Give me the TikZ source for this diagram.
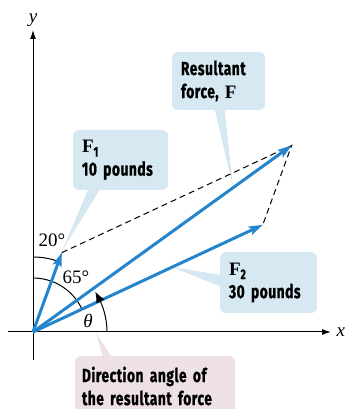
\documentclass[tikz,border=0pt]{standalone}
\usepackage{fontspec}
\setmainfont{Liberation Serif}
\newfontfamily\callfont[FakeStretch=0.72, LetterSpace=3, FakeBold=1]{Fira Sans}
\usetikzlibrary{arrows.meta,calc,bending}
\definecolor{forceblue}{RGB}{36,132,204}
\definecolor{tagblue}{RGB}{214,232,242}
\definecolor{tagpink}{RGB}{237,224,231}
\tikzset{
  every picture/.style={line width=1pt},
  axis/.style={-{Latex[length=9pt,width=6pt]}, line width=1pt},
  force/.style={-{Stealth[length=14pt,width=9pt,inset=3pt]}, line width=3pt, color=forceblue},
  guide/.style={dash pattern=on 6pt off 4pt, line width=1pt},
  angarc/.style={line width=1pt},
  tag/.style={rounded corners=6pt, inner sep=0pt, align=left,
    font=\callfont\bfseries\fontsize{19}{23}\selectfont},
  bluetag/.style={tag, fill=tagblue},
  pinktag/.style={tag, fill=tagpink},
  mlbl/.style={font=\fontsize{19}{19}\selectfont, inner sep=0pt},
}

\begin{document}
\begin{tikzpicture}[x=1pt, y=1pt]
  \clip (-33,-77) rectangle (316,332);
  % origin and force tips (1 lb = 8.45)
  \coordinate (O) at (0,0);
  \coordinate (A) at (70:84.5);
  \coordinate (B) at (25:253.5);
  \coordinate (R) at ($(A)+(B)$);

  % callouts
  \node[bluetag, minimum width=93pt, minimum height=58pt, text width=75pt] (restag) at (185.5,251) {Resultant\\force, {\rmfamily\bfseries F}};
  \node[bluetag, minimum width=95pt, minimum height=60pt, text width=77pt] (onetag) at (87.5,172) {{\rmfamily\bfseries F}\raisebox{-4pt}{\fontsize{14}{14}\selectfont 1}\\10 pounds};
  \node[bluetag, minimum width=97pt, minimum height=61pt, text width=79pt] (twotag) at (235.5,49.5) {{\rmfamily\bfseries F}\raisebox{-4pt}{\fontsize{14}{14}\selectfont 2}\\30 pounds};
  \node[pinktag, minimum width=160pt, minimum height=60pt, text width=146pt] (angtag) at (122,-54) {Direction angle of\\the resultant force};
  \coordinate (restip) at (200,145);
  \coordinate (onetip) at (29,81);
  \coordinate (twotip) at (139,65);
  \coordinate (angtip) at (63,-1);
  \fill[tagblue] ($(restag.south)+(-4,2)$) -- ($(restag.south)+(6,2)$) -- (restip) -- cycle;
  \fill[tagblue] ($(onetag.south)+(-32,2)$) -- ($(onetag.south)+(-20,2)$) -- (onetip) -- cycle;
  \fill[tagblue] ($(twotag.west)+(2,7.5)$) -- ($(twotag.west)+(2,-4.5)$) -- (twotip) -- cycle;
  \fill[tagpink] ($(angtag.north)+(-52,-2)$) -- ($(angtag.north)+(-43,-2)$) -- (angtip) -- cycle;

  % axes
  \draw[axis] (0,-28) -- (0,302) node[mlbl, above=3pt] (ylbl) {\textit{y}};
  \draw[axis] (-25,0) -- (298,0) node[mlbl, right=5pt] (xlbl) {\textit{x}};

  % angle marks
  \draw[angarc] ($(O)+(90:75)$) arc[start angle=90, end angle=70, radius=75];
  \draw[angarc] ($(O)+(90:54)$) arc[start angle=90, end angle=25, radius=54];
  \node[mlbl] (twenty) at (19,92) {20°};
  \node[mlbl] (sixtyfive) at (43,55) {65°};
  \node[mlbl] (theta) at (55,11) {\textit{θ}};

  % parallelogram
  \draw[guide] (A) -- (R) -- (B);

  % forces
  \draw[force] (O) -- (A);
  \draw[force] (O) -- (B);
  \draw[force] (O) -- (R);

  % direction angle
  \draw[angarc, -{Latex[length=11pt,width=9pt,bend]}] ($(O)+(0:74)$) arc[start angle=0, end angle=33, radius=74];
\end{tikzpicture}
\end{document}
